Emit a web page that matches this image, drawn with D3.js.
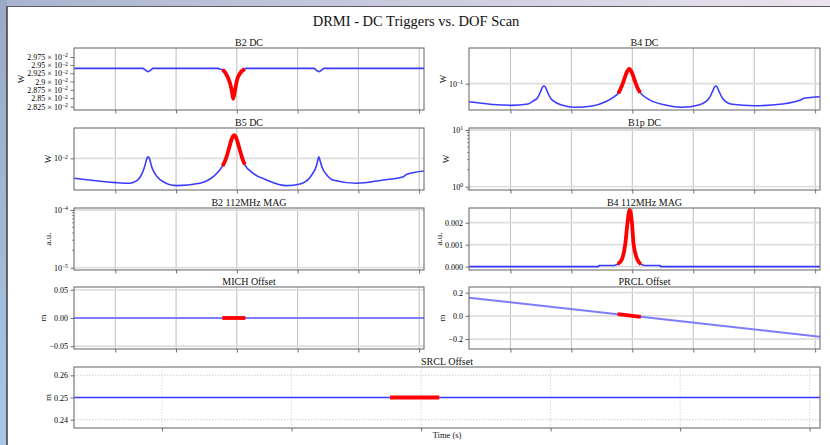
<!DOCTYPE html>
<html>
<head>
<meta charset="utf-8">
<script src="https://cdn.jsdelivr.net/npm/d3@7"></script>
<style>
    body { margin: 0; background: #fff; }
    svg text { font-family: "Liberation Serif", "DejaVu Serif", serif; fill: #111; }
</style>
</head>
<body>
<svg id="fig" width="830" height="445"></svg>
<script>
// ---- data (time in s relative to the trigger) ----
const timeTicks = [-2, -1, 0, 1, 2, 3];
const timeDomain = [-2.68, 3.08];
const triggerWindow = [-0.24, 0.14];

const b2dc = [[-2.68, 0.02940], [-1.55, 0.02940], [-1.50, 0.02934], [-1.46, 0.02930], [-1.42, 0.02934],
    [-1.38, 0.02940], [-0.30, 0.02940], [-0.29, 0.02938], [-0.235, 0.02936], [-0.17, 0.02921],
    [-0.115, 0.02896], [-0.077, 0.02866], [-0.061, 0.02848], [-0.028, 0.02876], [0.005, 0.02906],
    [0.05, 0.02924], [0.13, 0.02938], [0.15, 0.02940], [1.27, 0.02940], [1.31, 0.02934],
    [1.35, 0.02930], [1.39, 0.02934], [1.44, 0.02940], [3.08, 0.02940]];

const b4dc = [[-2.68, 0.0705], [-1.99, 0.0657], [-1.71, 0.0675], [-1.60, 0.0728], [-1.57, 0.0744],
    [-1.53, 0.0803], [-1.51, 0.0846], [-1.49, 0.0896], [-1.47, 0.094], [-1.45, 0.0962],
    [-1.43, 0.094], [-1.41, 0.0896], [-1.39, 0.0846], [-1.37, 0.0803], [-1.33, 0.0744],
    [-1.29, 0.0712], [-1.16, 0.0661], [-0.94, 0.0632], [-0.66, 0.0648], [-0.44, 0.0705],
    [-0.30, 0.0775], [-0.23, 0.0830], [-0.19, 0.091], [-0.15, 0.1025], [-0.12, 0.114],
    [-0.09, 0.125], [-0.05, 0.133], [-0.01, 0.125], [0.02, 0.114], [0.05, 0.1025],
    [0.09, 0.091], [0.13, 0.0840], [0.27, 0.0738], [0.54, 0.0661], [0.82, 0.0632],
    [1.09, 0.0661], [1.21, 0.0710], [1.25, 0.0744], [1.29, 0.0803], [1.31, 0.0846],
    [1.33, 0.0896], [1.35, 0.094], [1.37, 0.0962], [1.39, 0.094], [1.41, 0.0896],
    [1.43, 0.0846], [1.45, 0.0803], [1.49, 0.0744], [1.64, 0.0670], [2.00, 0.0652],
    [2.46, 0.0675], [2.76, 0.0728], [2.82, 0.0753], [3.08, 0.0777]];

const b5dc = [[-2.68, 0.00548], [-2.0, 0.00481], [-1.76, 0.00472], [-1.65, 0.00506], [-1.57, 0.00607],
    [-1.52, 0.0077], [-1.50, 0.0088], [-1.48, 0.0100], [-1.46, 0.01052], [-1.44, 0.0100],
    [-1.42, 0.0088], [-1.40, 0.0077], [-1.35, 0.00637], [-1.27, 0.00532], [-0.99, 0.00439],
    [-0.61, 0.00472], [-0.39, 0.00575], [-0.235, 0.00795], [-0.184, 0.0097], [-0.144, 0.0123],
    [-0.114, 0.0150], [-0.084, 0.0180], [-0.064, 0.0195], [-0.044, 0.0202], [-0.024, 0.0195],
    [-0.004, 0.0180], [0.026, 0.0150], [0.056, 0.0123], [0.096, 0.0097], [0.13, 0.0083],
    [0.27, 0.00637], [0.49, 0.00521], [0.82, 0.00439], [1.04, 0.00462], [1.20, 0.00558],
    [1.28, 0.0070], [1.31, 0.0080], [1.33, 0.0093], [1.35, 0.01052], [1.37, 0.0093],
    [1.39, 0.0082], [1.42, 0.0071], [1.48, 0.00607], [1.58, 0.00521], [1.97, 0.00472],
    [2.41, 0.00521], [2.74, 0.00575], [2.80, 0.00618], [3.08, 0.00684]];

const b4rf = [[-2.68, 0], [-0.55, 0], [-0.549, 0.00005], [-0.30, 0.00005], [-0.24, 0.00011],
    [-0.17, 0.00034], [-0.115, 0.00104], [-0.08, 0.00197], [-0.045, 0.00259], [-0.005, 0.00197],
    [0.02, 0.00104], [0.08, 0.00034], [0.14, 0.00011], [0.20, 0.00005], [0.46, 0.00005],
    [0.461, 0], [3.08, 0]];

const michOffset = [[-2.68, 0], [-0.24, 0], [0.14, 0], [3.08, 0]];
const prclOffset = [[-2.68, 0.157], [-0.24, 0.014], [0.14, -0.008], [3.08, -0.180]];
const srclOffset = [[-2.68, 0.25], [-0.24, 0.25], [0.14, 0.25], [3.08, 0.25]];

const b2dcTicks = [0.02825, 0.0285, 0.02875, 0.029, 0.02925, 0.0295, 0.02975];

// ---- layout ----
const svg = d3.select("#fig");
const cols = {left: [74, 424], right: [469, 820], full: [74, 820]};
const rowTop = [48, 128, 208, 287, 367];
const rowH = 62;

const panels = [
    {title: "B2 DC", col: "left", row: 0, data: b2dc, log: true, domain: [0.02815, 0.03003],
        ticks: b2dcTicks, fmt: "sci2", grid: [], ylabel: "W"},
    {title: "B4 DC", col: "right", row: 0, data: b4dc, log: true, domain: [0.06, 0.2],
        ticks: [0.1], fmt: "pow", grid: [0.1], ylabel: "W"},
    {title: "B5 DC", col: "left", row: 1, data: b5dc, log: true, domain: [0.00385, 0.025],
        ticks: [0.01], fmt: "pow", grid: [0.01], ylabel: "W"},
    {title: "B1p DC", col: "right", row: 1, data: null, log: true, domain: [Math.pow(10, -0.058), Math.pow(10, 1.035)],
        ticks: [1, 10], fmt: "pow", grid: [1, 10], minor: true, ylabel: "W"},
    {title: "B2 112MHz MAG", col: "left", row: 2, data: null, log: true, domain: [Math.pow(10, -5.04), Math.pow(10, -3.965)],
        ticks: [1e-5, 1e-4], fmt: "pow", grid: [1e-5, 1e-4], minor: true, ylabel: "a.u."},
    {title: "B4 112MHz MAG", col: "right", row: 2, data: b4rf, log: false, domain: [-0.000153, 0.00267],
        ticks: [0, 0.001, 0.002], fmt: ".3f", grid: [0, 0.001, 0.002], ylabel: "a.u."},
    {title: "MICH Offset", col: "left", row: 3, data: michOffset, log: false, domain: [-0.055, 0.055],
        ticks: [-0.05, 0, 0.05], fmt: ".2f", grid: [-0.05, 0, 0.05], ylabel: "m", light: true},
    {title: "PRCL Offset", col: "right", row: 3, data: prclOffset, log: false, domain: [-0.286, 0.249],
        ticks: [-0.2, 0, 0.2], fmt: ".1f", grid: [-0.2, 0, 0.2], ylabel: "m", light: true},
    {title: "SRCL Offset", col: "full", row: 4, data: srclOffset, log: false, domain: [0.23625, 0.26375],
        ticks: [0.24, 0.25, 0.26], fmt: ".2f", grid: [0.24, 0.25, 0.26], ylabel: "m", dotted: true, xlabel: "Time (s)"}
];

// ---- window frame and desktop edge ----
const bg = svg.append("defs");
const gTop = bg.append("linearGradient").attr("id", "topStrip");
gTop.append("stop").attr("offset", "0%").attr("stop-color", "#a9b4cf");
gTop.append("stop").attr("offset", "100%").attr("stop-color", "#ece4ee");
const gLeft = bg.append("linearGradient").attr("id", "leftStrip")
    .attr("x1", 0).attr("y1", 0).attr("x2", 0).attr("y2", 1);
gLeft.append("stop").attr("offset", "0%").attr("stop-color", "#9aa9c6");
gLeft.append("stop").attr("offset", "100%").attr("stop-color", "#a7c7e6");
svg.append("rect").attr("width", 830).attr("height", 7).attr("fill", "url(#topStrip)");
svg.append("rect").attr("width", 7).attr("height", 445).attr("fill", "url(#leftStrip)");
svg.append("line").attr("x1", 6.5).attr("x2", 830).attr("y1", 6.5).attr("y2", 6.5)
    .attr("stroke", "#5a5a60").attr("stroke-width", 1.2);
svg.append("line").attr("x1", 7).attr("x2", 7).attr("y1", 6.5).attr("y2", 445)
    .attr("stroke", "#3a3a40").attr("stroke-width", 1.5);

svg.append("text").attr("x", 416).attr("y", 25.5).attr("text-anchor", "middle")
    .style("font-size", "14.5px").text("DRMI - DC Triggers vs. DOF Scan");

function powLabel(text, mant, exp) {
    text.text(null);
    if (mant !== null) {
        text.append("tspan").text(mant + " \u00d7 ");
    }
    text.append("tspan").text("10");
    text.append("tspan").attr("dy", "-0.45em").style("font-size", "0.72em")
        .text(exp < 0 ? "\u2212" + (-exp) : String(exp));
}

panels.forEach((p, i) => {
    const [x0, x1] = cols[p.col];
    const top = rowTop[p.row];
    const bottom = top + rowH - (p.row === 4 ? 1 : 0);
    const x = d3.scaleLinear().domain(timeDomain).range([x0, x1]);
    const y = (p.log ? d3.scaleLog() : d3.scaleLinear()).domain(p.domain).range([bottom, top]);
    const g = svg.append("g").attr("class", "panel");

    // grid
    const vGrid = g.append("g").attr("class", "vgrid");
    timeTicks.forEach(t => {
        vGrid.append("line")
            .attr("x1", x(t)).attr("x2", x(t)).attr("y1", top).attr("y2", bottom)
            .attr("stroke", p.dotted ? "#cfcfcf" : "#b5b5b5")
            .attr("stroke-width", p.dotted ? 0.8 : 0.9)
            .attr("stroke-dasharray", p.dotted ? "1.5,1.5" : null);
    });
    const hGrid = g.append("g").attr("class", "hgrid");
    p.grid.forEach(v => {
        hGrid.append("line")
            .attr("x1", x0).attr("x2", x1).attr("y1", y(v)).attr("y2", y(v))
            .attr("stroke", p.dotted ? "#c8c8c8" : "#dedede")
            .attr("stroke-width", p.dotted ? 0.8 : 1.8)
            .attr("stroke-dasharray", p.dotted ? "1.5,1.5" : null);
    });

    // data
    g.append("clipPath").attr("id", "clip" + i)
        .append("rect").attr("x", x0).attr("y", top).attr("width", x1 - x0).attr("height", bottom - top);
    if (p.data) {
        const line = d3.line().x(d => x(d[0])).y(d => y(d[1])).curve(d3.curveMonotoneX);
        g.append("path").datum(p.data)
            .attr("clip-path", `url(#clip${i})`)
            .attr("fill", "none")
            .attr("stroke", p.light ? "#7d7dff" : "#3b3bff")
            .attr("stroke-width", p.light ? 2 : 1.6)
            .attr("d", line);
        const trig = p.data.filter(d => d[0] >= triggerWindow[0] - 1e-9 && d[0] <= triggerWindow[1] + 1e-9);
        g.append("path").datum(trig)
            .attr("clip-path", `url(#clip${i})`)
            .attr("fill", "none")
            .attr("stroke", "#ff0000")
            .attr("stroke-width", 3.8)
            .attr("stroke-linecap", "butt")
            .attr("d", line);
    }

    // spines
    g.append("rect").attr("x", x0).attr("y", top).attr("width", x1 - x0).attr("height", bottom - top)
        .attr("fill", "none").attr("stroke", "#6f6f6f").attr("stroke-width", 1.1);

    // x ticks (labels shared, hidden)
    g.append("g").attr("transform", `translate(0,${bottom})`)
        .call(d3.axisBottom(x).tickValues(timeTicks).tickSize(3.5).tickSizeOuter(0).tickFormat(""))
        .call(a => a.select(".domain").remove())
        .call(a => a.selectAll(".tick line").attr("stroke", "#6f6f6f"));

    // y axis
    const yAxis = g.append("g").attr("transform", `translate(${x0},0)`)
        .call(d3.axisLeft(y).tickValues(p.ticks).tickSize(3.5).tickSizeOuter(0).tickPadding(2.5)
            .tickFormat(p.fmt === "sci2" || p.fmt === "pow" ? () => "" : d3.format(p.fmt)))
        .call(a => a.select(".domain").remove())
        .call(a => a.selectAll(".tick line").attr("stroke", "#6f6f6f"));
    yAxis.selectAll(".tick text").style("font-size", "8px").style("fill", "#000");
    if (p.fmt === "sci2") {
        yAxis.selectAll(".tick text").each(function (d) {
            const mant = d3.format(".4~f")(d * 100);
            powLabel(d3.select(this), mant, -2);
        });
    } else if (p.fmt === "pow") {
        yAxis.selectAll(".tick text").each(function (d) {
            powLabel(d3.select(this), null, Math.round(Math.log10(d)));
        });
    }
    if (p.minor) {
        const [lo, hi] = p.domain;
        const minor = [];
        for (let e = Math.floor(Math.log10(lo)); e <= Math.ceil(Math.log10(hi)); e++) {
            for (let m = 2; m <= 9; m++) {
                const v = m * Math.pow(10, e);
                if (v > lo && v < hi) minor.push(v);
            }
        }
        g.append("g").selectAll("line").data(minor).join("line")
            .attr("x1", x0 - 2).attr("x2", x0).attr("y1", d => y(d)).attr("y2", d => y(d))
            .attr("stroke", "#6f6f6f").attr("stroke-width", 0.8);
    }

    // title and y label
    g.append("text").attr("x", (x0 + x1) / 2).attr("y", top - 2.5).attr("text-anchor", "middle")
        .style("font-size", "10px").text(p.title);
    const bb = yAxis.node().getBBox();
    g.append("text")
        .attr("transform", `translate(${x0 + bb.x - 3},${(top + bottom) / 2}) rotate(-90)`)
        .attr("text-anchor", "middle")
        .style("font-size", "9px").text(p.ylabel);
    if (p.xlabel) {
        g.append("text").attr("x", (x0 + x1) / 2).attr("y", bottom + 9.5).attr("text-anchor", "middle")
            .style("font-size", "8.5px").text(p.xlabel);
    }
});
</script>
</body>
</html>
